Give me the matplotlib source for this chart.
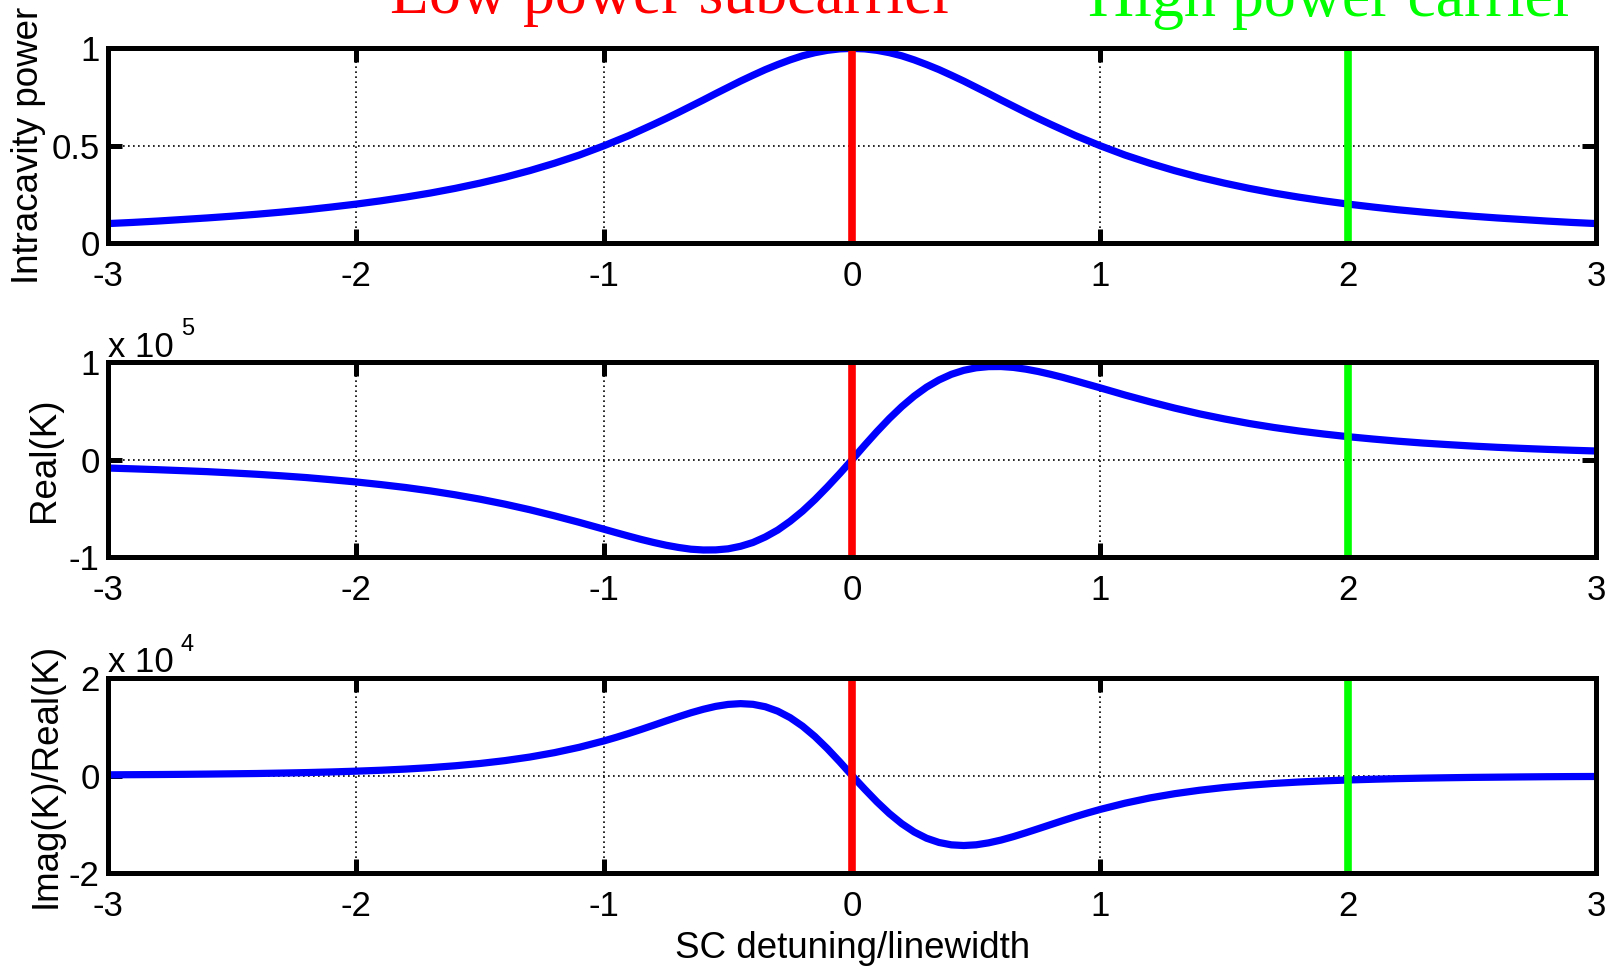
import matplotlib
matplotlib.use('Agg')
import matplotlib.pyplot as plt

plt.rcParams['font.family'] = ['Liberation Sans', 'DejaVu Sans']
plt.rcParams['axes.unicode_minus'] = False

# SC detuning / linewidth (finer sampling near the centre)
detuning = [-3.0, -2.9, -2.8, -2.7, -2.6, -2.5, -2.4, -2.3, -2.2, -2.1,
            -2.0, -1.9, -1.8, -1.7, -1.6, -1.5, -1.4, -1.3, -1.2, -1.1,
            -1.0, -0.95, -0.9, -0.85, -0.8, -0.75, -0.7, -0.65, -0.6, -0.55,
            -0.5, -0.45, -0.4, -0.35, -0.3, -0.25, -0.2, -0.15, -0.1, -0.05,
            0.0,
            0.05, 0.1, 0.15, 0.2, 0.25, 0.3, 0.35, 0.4, 0.45, 0.5,
            0.55, 0.6, 0.65, 0.7, 0.75, 0.8, 0.85, 0.9, 0.95, 1.0,
            1.1, 1.2, 1.3, 1.4, 1.5, 1.6, 1.7, 1.8, 1.9, 2.0,
            2.1, 2.2, 2.3, 2.4, 2.5, 2.6, 2.7, 2.8, 2.9, 3.0]

power = [0.100, 0.106, 0.113, 0.121, 0.129, 0.138, 0.148, 0.159, 0.171, 0.185,
         0.200, 0.217, 0.236, 0.257, 0.281, 0.308, 0.338, 0.372, 0.410, 0.452,
         0.500, 0.526, 0.552, 0.581, 0.610, 0.640, 0.671, 0.703, 0.735, 0.768,
         0.800, 0.832, 0.862, 0.891, 0.917, 0.941, 0.962, 0.978, 0.990, 0.9975,
         1.000,
         0.9975, 0.990, 0.978, 0.962, 0.941, 0.917, 0.891, 0.862, 0.832, 0.800,
         0.768, 0.735, 0.703, 0.671, 0.640, 0.610, 0.581, 0.552, 0.526, 0.500,
         0.452, 0.410, 0.372, 0.338, 0.308, 0.281, 0.257, 0.236, 0.217, 0.200,
         0.185, 0.171, 0.159, 0.148, 0.138, 0.129, 0.121, 0.113, 0.106, 0.100]

# Real(K), in units of 1e5
real_k = [-0.086, -0.094, -0.103, -0.113, -0.123, -0.136, -0.150, -0.166, -0.184, -0.206,
          -0.229, -0.256, -0.286, -0.321, -0.361, -0.406, -0.457, -0.514, -0.577, -0.644,
          -0.715, -0.751, -0.786, -0.820, -0.851, -0.879, -0.902, -0.920, -0.928, -0.927,
          -0.916, -0.890, -0.851, -0.794, -0.723, -0.633, -0.529, -0.410, -0.280, -0.143,
          0.000,
          0.147, 0.289, 0.423, 0.545, 0.653, 0.745, 0.819, 0.877, 0.918, 0.944,
          0.956, 0.957, 0.948, 0.930, 0.906, 0.877, 0.845, 0.810, 0.774, 0.738,
          0.664, 0.595, 0.530, 0.471, 0.419, 0.372, 0.331, 0.295, 0.264, 0.236,
          0.212, 0.190, 0.171, 0.155, 0.140, 0.127, 0.116, 0.106, 0.097, 0.089]

# Imag(K)/Real(K), in units of 1e4
ratio_k = [0.017, 0.020, 0.023, 0.027, 0.032, 0.038, 0.044, 0.053, 0.063, 0.076,
           0.092, 0.111, 0.135, 0.165, 0.203, 0.250, 0.309, 0.382, 0.473, 0.583,
           0.715, 0.789, 0.868, 0.951, 1.037, 1.125, 1.210, 1.292, 1.364, 1.424,
           1.464, 1.480, 1.466, 1.416, 1.325, 1.192, 1.017, 0.803, 0.555, 0.284,
           0.000,
           -0.275, -0.539, -0.779, -0.987, -1.157, -1.286, -1.373, -1.422, -1.436, -1.421,
           -1.381, -1.324, -1.253, -1.174, -1.091, -1.007, -0.923, -0.842, -0.766, -0.694,
           -0.566, -0.458, -0.371, -0.300, -0.243, -0.197, -0.160, -0.131, -0.108, -0.089,
           -0.074, -0.061, -0.051, -0.043, -0.036, -0.031, -0.026, -0.022, -0.019, -0.017]

subcarrier_x = 0
carrier_x = 2

panels = [
    (power, 'Intracavity power', (0, 1), [0, 0.5, 1], None),
    (real_k, 'Real(K)', (-1, 1), [-1, 0, 1], '5'),
    (ratio_k, 'Imag(K)/Real(K)', (-2, 2), [-2, 0, 2], '4'),
]
xticks = [-3, -2, -1, 0, 1, 2, 3]

fig = plt.figure(figsize=(16.17, 9.66), dpi=100)
left, width, height = 0.0668, 0.9204, 0.2015
bottoms = [0.7484, 0.4234, 0.0963]
label_x = [-0.042, -0.031, -0.030]

for k, (vals, ylab, ylim, yt, expo) in enumerate(panels):
    ax = fig.add_axes([left, bottoms[k], width, height])
    ax.plot(detuning, vals, color='#0000ff', lw=5.2, zorder=3,
            solid_joinstyle='round')
    ax.axvline(subcarrier_x, color='#ff0000', lw=5.5, zorder=4)
    ax.axvline(carrier_x, color='#00ff00', lw=5.5, zorder=4)
    ax.set_xlim(-3, 3)
    ax.set_ylim(*ylim)
    ax.set_xticks(xticks)
    ax.set_yticks(yt)
    ax.set_xticklabels([str(t) for t in xticks])
    ax.set_yticklabels([('%g' % t) for t in yt])
    ax.grid(True, color='k', lw=1.2, linestyle=(0, (1, 2)), zorder=1)
    ax.set_axisbelow(True)
    for s in ax.spines.values():
        s.set_linewidth(3.6)
        s.set_zorder(5)
    ax.tick_params(direction='in', length=10, width=3.6, top=True, right=True,
                   labelsize=25, colors='k')
    ax.tick_params(axis='x', pad=12)
    ax.tick_params(axis='y', pad=6)
    ax.set_ylabel(ylab, fontsize=26.5)
    ax.yaxis.set_label_coords(label_x[k], 0.5)
    if expo:
        # MATLAB style exponent label above the axes
        ax.text(0.0, 1.03, 'x 10', transform=ax.transAxes, fontsize=25,
                ha='left', va='baseline')
        ax.text(0.049, 1.14, expo, transform=ax.transAxes, fontsize=17,
                ha='left', va='baseline')
    if k == 2:
        ax.set_xlabel('SC detuning/linewidth', fontsize=26.5)
        ax.xaxis.set_label_coords(0.5, -0.30)

fig.text(0.241, 0.9865, 'Low power subcarrier', color='#ff0000', fontsize=46,
         family='Liberation Serif', ha='left', va='baseline')
fig.text(0.673, 0.9834, 'High power carrier', color='#00ff00', fontsize=46,
         family='Liberation Serif', ha='left', va='baseline')

fig.savefig('out.png', dpi=100)
